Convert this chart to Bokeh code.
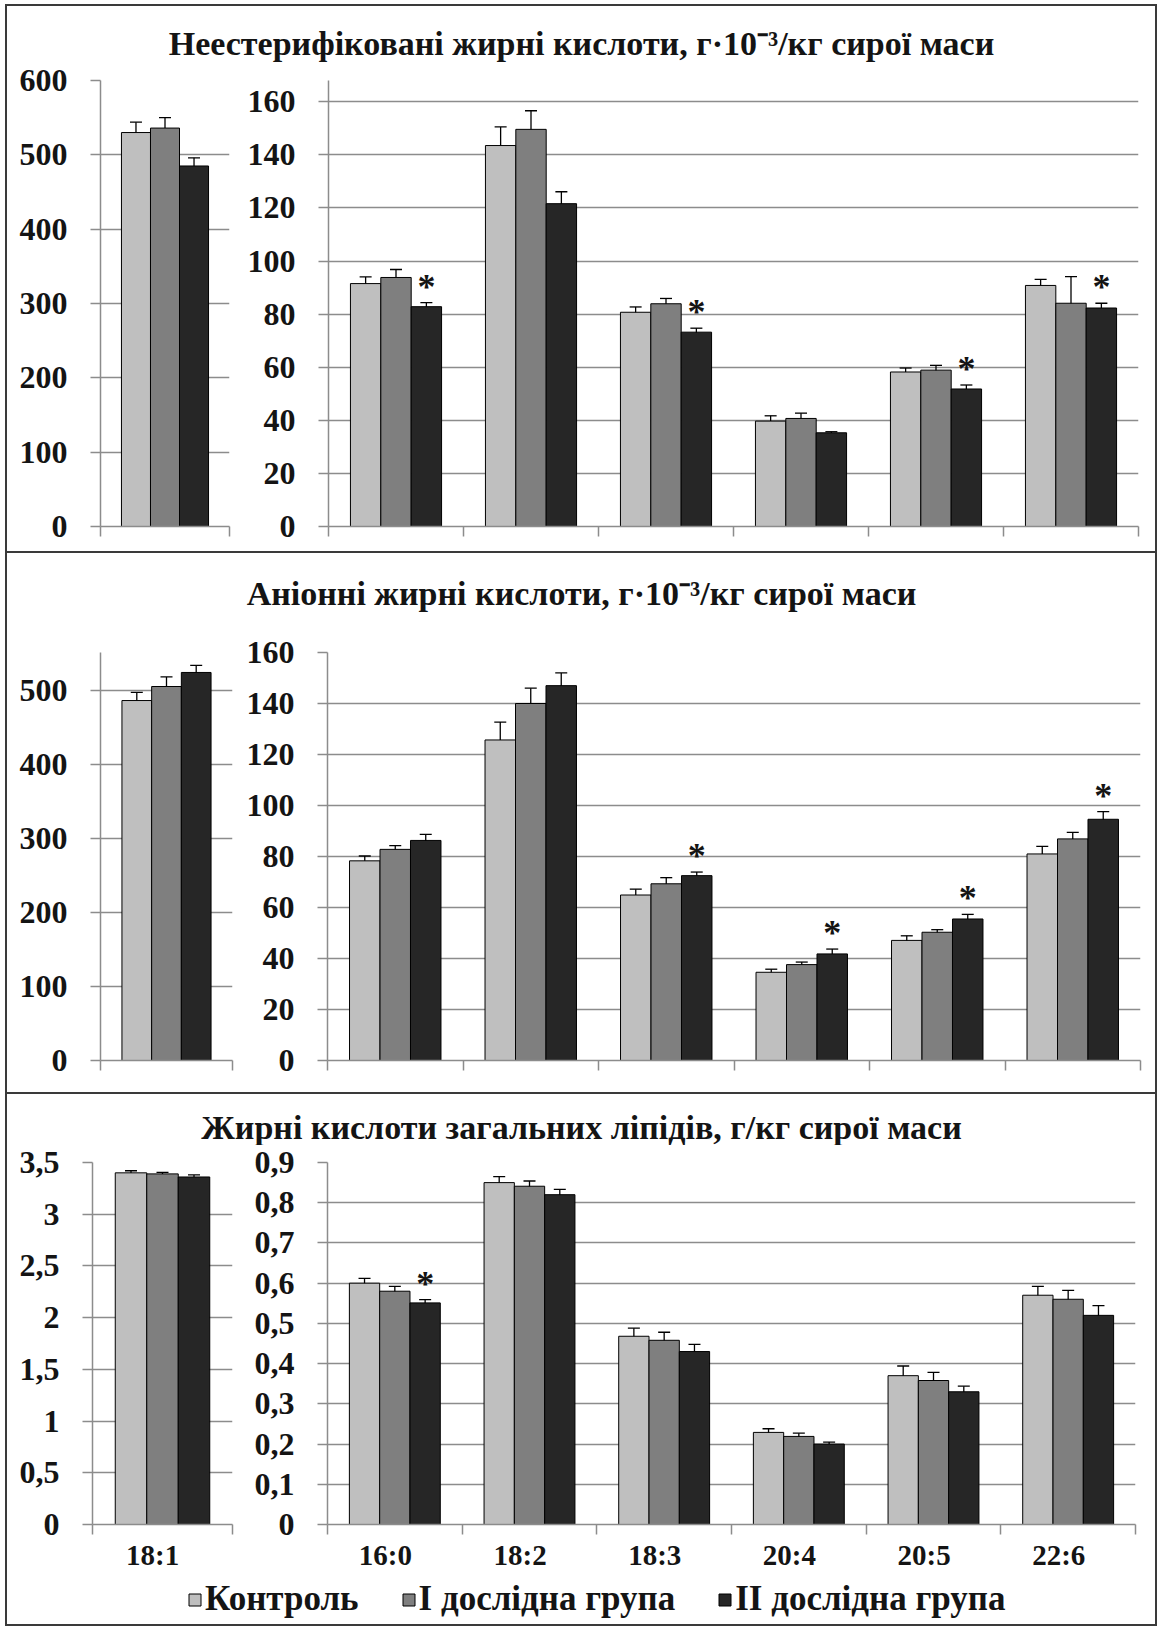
from bokeh.plotting import figure
from bokeh.models import (ColumnDataSource, Range1d, FixedTicker, Whisker, TeeHead,
                          Label, Legend, LegendItem, CustomJSTickFormatter)
from bokeh.layouts import column, row
from bokeh.embed import file_html
from bokeh.resources import INLINE
from bokeh.core.properties import value

# ---------------- data ----------------
series_names = ["Контроль", "I дослідна група", "II дослідна група"]
single_cat = ["18:1"]
main_cats = ["16:0", "18:2", "18:3", "20:4", "20:5", "22:6"]

title_nefa = "Неестерифіковані жирні кислоти, г·10⁻³/кг сирої маси"
title_anion = "Аніонні жирні кислоти, г·10⁻³/кг сирої маси"
title_total = "Жирні кислоти загальних ліпідів, г/кг сирої маси"

# Panel 1: non-esterified fatty acids
nefa_181 = [530, 536, 485]
nefa_181_err = [14, 14, 11]
nefa_ctrl = [91.5, 143.5, 80.7, 39.7, 58.2, 90.8]
nefa_ctrl_err = [2.5, 7, 2, 2, 1.5, 2.3]
nefa_g1 = [93.8, 149.6, 83.9, 40.7, 58.9, 84.1]
nefa_g1_err = [3, 7, 2, 2, 1.8, 10]
nefa_g2 = [82.8, 121.6, 73.2, 35.3, 51.8, 82.3]
nefa_g2_err = [1.5, 4.5, 1.5, 0.4, 1.5, 1.8]
nefa_star = [1, 0, 1, 0, 1, 1]

# Panel 2: anionic fatty acids
anion_181 = [487, 506, 525]
anion_181_err = [11, 13, 9.5]
anion_ctrl = [78.3, 125.7, 64.9, 34.6, 47.1, 81.0]
anion_ctrl_err = [1.9, 7, 2.3, 1.2, 1.8, 3]
anion_g1 = [82.8, 140.0, 69.3, 37.6, 50.3, 86.9]
anion_g1_err = [1.5, 6, 2.4, 1.0, 1.0, 2.6]
anion_g2 = [86.3, 147.0, 72.5, 41.8, 55.5, 94.6]
anion_g2_err = [2.4, 5, 1.4, 1.9, 1.8, 3]
anion_star = [0, 0, 1, 1, 1, 1]

# Panel 3: fatty acids of total lipids
total_181 = [3.40, 3.39, 3.36]
total_181_err = [0.02, 0.015, 0.02]
total_ctrl = [0.60, 0.85, 0.468, 0.229, 0.37, 0.57]
total_ctrl_err = [0.012, 0.015, 0.02, 0.009, 0.024, 0.022]
total_g1 = [0.58, 0.841, 0.458, 0.219, 0.358, 0.56]
total_g1_err = [0.012, 0.013, 0.02, 0.008, 0.02, 0.022]
total_g2 = [0.551, 0.82, 0.43, 0.20, 0.33, 0.52]
total_g2_err = [0.008, 0.013, 0.018, 0.005, 0.014, 0.024]
total_star = [1, 0, 0, 0, 0, 0]

ticks_nefa_left = [0, 100, 200, 300, 400, 500, 600]
ticks_main_160 = [0, 20, 40, 60, 80, 100, 120, 140, 160]
ticks_anion_left = [0, 100, 200, 300, 400, 500]
ticks_total_left = [0, 0.5, 1, 1.5, 2, 2.5, 3, 3.5]
ticks_total_right = [0, 0.1, 0.2, 0.3, 0.4, 0.5, 0.6, 0.7, 0.8, 0.9]

# ---------------- style ----------------
FONT = "Liberation Serif"
COLORS = ["#bfbfbf", "#7f7f7f", "#262626"]
GRID = "#8c8c8c"
TXT = "#141414"
BW = 0.225
LABEL_SHIFT = -0.07
BORDER = "2px solid #3a3a3a"
YTICK_FS = "32px"
XTICK_FS = "29px"
TITLE_FS = "34px"
LEGEND_FS = "35px"
LEFT_W = 233
RIGHT_W = 915
FULL_W = LEFT_W + RIGHT_W


def bar_chart(cats, vals, errs, stars, y_max, y_ticks, width, height, borders,
              show_x_labels, comma=False):
    n = len(cats)
    p = figure(width=width, height=height, x_range=Range1d(0, n), y_range=Range1d(0, y_max),
               output_backend="svg", toolbar_location=None, tools="",
               min_border_left=borders[0], min_border_right=borders[1],
               min_border_top=borders[2], min_border_bottom=borders[3])
    p.outline_line_color = None
    p.background_fill_color = "white"
    p.border_fill_color = "white"
    centers = [i + 0.5 for i in range(n)]
    for j in range(3):
        xs = [c + (j - 1) * BW for c in centers]
        src = ColumnDataSource(dict(
            x=xs, top=vals[j],
            upper=[v + e for v, e in zip(vals[j], errs[j])],
            lower=[v - e for v, e in zip(vals[j], errs[j])]))
        p.vbar(x="x", top="top", bottom=0, width=BW, source=src,
               fill_color=COLORS[j], line_color="black", line_width=1)
        p.add_layout(Whisker(source=src, base="x", upper="upper", lower="lower",
                             line_color="black", line_width=1.3,
                             upper_head=TeeHead(size=12, line_color="black", line_width=1.3),
                             lower_head=TeeHead(size=12, line_color="black", line_width=1.3)))
    sx = [centers[i] + BW for i in range(n) if stars[i]]
    sy = [vals[2][i] + errs[2][i] for i in range(n) if stars[i]]
    if sx:
        p.text(x=sx, y=sy, text=["*"] * len(sx), text_font=value(FONT),
               text_font_style="bold", text_font_size="36px", text_color=TXT,
               text_align="center", text_baseline="alphabetic", y_offset=-16)

    yt = FixedTicker(ticks=y_ticks)
    ya = p.yaxis[0]
    ya.ticker = yt
    ya.axis_line_color = GRID
    ya.axis_line_width = 1.5
    ya.major_tick_line_color = GRID
    ya.major_tick_line_width = 1.5
    ya.major_tick_out = 10
    ya.major_tick_in = 0
    ya.minor_tick_line_color = None
    ya.major_label_standoff = 23
    ya.major_label_text_font = FONT
    ya.major_label_text_font_style = "bold"
    ya.major_label_text_font_size = YTICK_FS
    ya.major_label_text_color = TXT
    if comma:
        ya.formatter = CustomJSTickFormatter(
            code="return (Math.round(tick*10)/10).toString().replace('.', ',');")
    p.ygrid[0].ticker = yt
    p.ygrid.grid_line_color = GRID
    p.ygrid.grid_line_width = 1.5
    p.xgrid.grid_line_color = None

    xa = p.xaxis[0]
    label_pos = [c + LABEL_SHIFT for c in centers]
    xa.ticker = FixedTicker(ticks=label_pos, minor_ticks=list(range(n + 1)))
    xa.axis_line_color = GRID
    xa.axis_line_width = 1.5
    xa.major_tick_line_color = None
    xa.major_tick_out = 10
    xa.major_tick_in = 0
    xa.minor_tick_line_color = GRID
    xa.minor_tick_line_width = 1.5
    xa.minor_tick_out = 10
    xa.minor_tick_in = 0
    xa.major_label_standoff = 4
    xa.major_label_text_font = FONT
    xa.major_label_text_font_style = "bold"
    xa.major_label_text_font_size = XTICK_FS
    xa.major_label_text_color = TXT
    if show_x_labels:
        xa.formatter = CustomJSTickFormatter(args=dict(labels=cats),
                                             code="return labels[Math.floor(tick)];")
    else:
        xa.formatter = CustomJSTickFormatter(code="return '';")
    return p


def title_fig(text, height, ypos):
    t = figure(width=FULL_W, height=height, x_range=Range1d(0, 1), y_range=Range1d(0, 1),
               output_backend="svg", toolbar_location=None, tools="", min_border=0,
               x_axis_location=None, y_axis_location=None)
    t.grid.visible = False
    t.outline_line_color = None
    t.add_layout(Label(x=0.5, y=ypos, text=text, text_align="center", text_baseline="middle",
                       text_font=FONT, text_font_style="bold", text_font_size=TITLE_FS,
                       text_color=TXT))
    return t


# ---------------- panel 1 ----------------
t1 = title_fig(title_nefa, 56, 0.34)
l1 = bar_chart(single_cat, [[v] for v in nefa_181], [[e] for e in nefa_181_err], [0],
               600, ticks_nefa_left, LEFT_W, 489, (93, 11, 18, 25), False)
r1 = bar_chart(main_cats, [nefa_ctrl, nefa_g1, nefa_g2],
               [nefa_ctrl_err, nefa_g1_err, nefa_g2_err], nefa_star,
               168, ticks_main_160, RIGHT_W, 489, (88, 17, 18, 25), False)
panel1 = column(t1, row(l1, r1), styles={"border-bottom": BORDER})

# ---------------- panel 2 ----------------
t2 = title_fig(title_anion, 77, 0.48)
l2 = bar_chart(single_cat, [[v] for v in anion_181], [[e] for e in anion_181_err], [0],
               552, ticks_anion_left, LEFT_W, 462, (93, 8, 17, 32), False)
r2 = bar_chart(main_cats, [anion_ctrl, anion_g1, anion_g2],
               [anion_ctrl_err, anion_g1_err, anion_g2_err], anion_star,
               160, ticks_main_160, RIGHT_W, 462, (87, 15, 22, 24), False)
panel2 = column(t2, row(l2, r2), styles={"border-bottom": BORDER})

# ---------------- panel 3 ----------------
t3 = title_fig(title_total, 51, 0.36)
l3 = bar_chart(single_cat, [[v] for v in total_181], [[e] for e in total_181_err], [0],
               3.5, ticks_total_left, LEFT_W, 431, (85, 8, 17, 52), True, comma=True)
r3 = bar_chart(main_cats, [total_ctrl, total_g1, total_g2],
               [total_ctrl_err, total_g1_err, total_g2_err], total_star,
               0.9, ticks_total_right, RIGHT_W, 431, (87, 20, 17, 52), True, comma=True)

lf = figure(width=FULL_W, height=48, x_range=Range1d(0, 1), y_range=Range1d(0, 1),
            output_backend="svg", toolbar_location=None, tools="", min_border=0,
            x_axis_location=None, y_axis_location=None)
lf.grid.visible = False
lf.outline_line_color = None
items = []
for j, name in enumerate(series_names):
    # legend swatch renderer: a single bar kept outside the visible frame
    r = lf.vbar(x=[-1.0], top=[-1.0], bottom=[-2.0], width=0.1,
                fill_color=COLORS[j], line_color="black")
    items.append(LegendItem(label=name, renderers=[r]))
leg = Legend(items=items, orientation="horizontal", location=(180, 5),
             glyph_width=15, glyph_height=15, label_standoff=3, spacing=42,
             padding=0, margin=0, border_line_color=None, background_fill_alpha=0,
             label_text_font=FONT, label_text_font_style="bold",
             label_text_font_size=LEGEND_FS, label_text_color=TXT)
lf.add_layout(leg)

panel3 = column(t3, row(l3, r3), lf)

page = column(panel1, panel2, panel3,
              styles={"border": BORDER, "margin-top": "4px", "margin-left": "5px"})

open("out.html", "w").write(file_html(page, INLINE))
